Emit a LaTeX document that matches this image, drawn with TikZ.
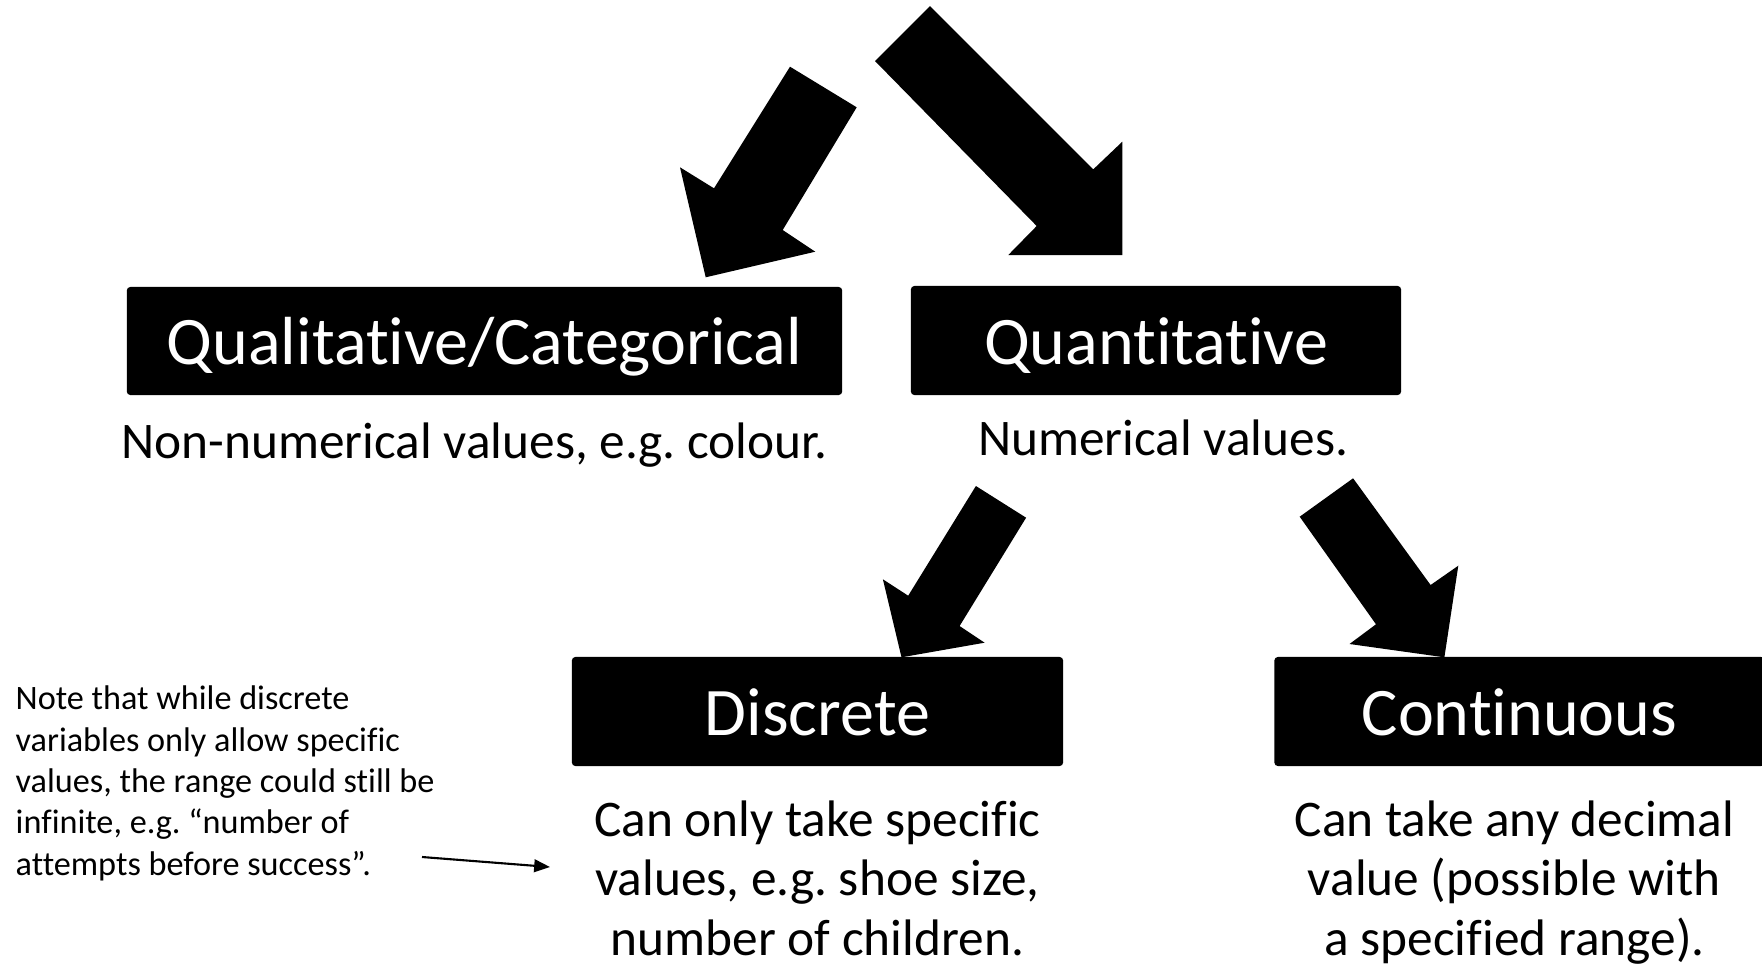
\documentclass[tikz,border=0pt]{standalone}
\usepackage{fontspec}
\setmainfont{Carlito}[Ligatures=NoCommon]
\usetikzlibrary{arrows.meta}
\frenchspacing
\tikzset{
  catbox/.style={fill=black, text=white, inner sep=0pt, rounded corners=1pt,
    font=\fontsize{19.35pt}{23pt}\selectfont, text height=15.6pt, text depth=2.2pt},
  desc/.style={inner sep=0pt, align=center, anchor=base,
    font=\fontsize{14.6pt}{16.8pt}\selectfont},
  notetext/.style={inner sep=0pt, align=left, anchor=base west,
    font=\fontsize{9.73pt}{11.75pt}\selectfont},
  blockarrow/.style={fill=black},
  thinarrow/.style={line width=0.6pt, -{Triangle[length=4.5pt,width=3.6pt]}}
}
\begin{document}
\begin{tikzpicture}[x=0.01cm,y=-0.01cm]
\useasboundingbox (0,0) rectangle (1762,969);
% block arrows
\fill[blockarrow] (790,66.7) -- (714,188.3) -- (680,167.3) -- (705.7,277.3)
  -- (815.3,251.7) -- (782.7,230) -- (856.7,107.3) -- cycle;
\fill[blockarrow] (930,6) -- (1093.3,169.3) -- (1122.3,141.7) -- (1122.3,255)
  -- (1008.3,255) -- (1036.7,226) -- (875,61) -- cycle;
\fill[blockarrow] (975.9,486) -- (908.2,595.7) -- (882.9,579.3) -- (901.5,657.3)
  -- (984.6,642.7) -- (959.6,626) -- (1026.1,517.7) -- cycle;
\fill[blockarrow] (1353.1,478.3) -- (1430.6,585) -- (1458.3,565.7) -- (1444.4,657.3)
  -- (1349.5,644) -- (1376,624.3) -- (1299.7,516.7) -- cycle;
% boxes
\node[catbox, minimum width=7.15cm, minimum height=1.08cm] (qual) at (484.5,341) {Qualitative/Categorical};
\node[catbox, minimum width=4.9cm, minimum height=1.09cm] (quant) at (1156,340.5) {Quantitative};
\node[catbox, minimum width=4.91cm, minimum height=1.09cm] (disc) at (817.5,711.5) {Discrete};
\node[catbox, minimum width=4.9cm, minimum height=1.09cm] (cont) at (1519.5,711.5) {Continuous};
% descriptions
\node[desc] (qualdesc) at (474.5,458) {Non-numerical values, e.g. colour.};
\node[desc] (quantdesc) at (1163,455) {Numerical values.};
\node[desc] (discdesc) at (817.5,955) {Can only take specific\\values, e.g. shoe size,\\number of children.};
\node[desc] (contdesc) at (1514.5,955) {Can take any decimal\\value (possible with\\a specified range).};
% note
\node[notetext] (note) at (15,875) {Note that while discrete\\variables only allow specific\\values, the range could still be\\infinite, e.g. “number of\\attempts before success”.};
\coordinate (na) at (422,857);
\coordinate (nb) at (550,867);
\draw[thinarrow] (na) -- (nb);
\end{tikzpicture}
\end{document}
